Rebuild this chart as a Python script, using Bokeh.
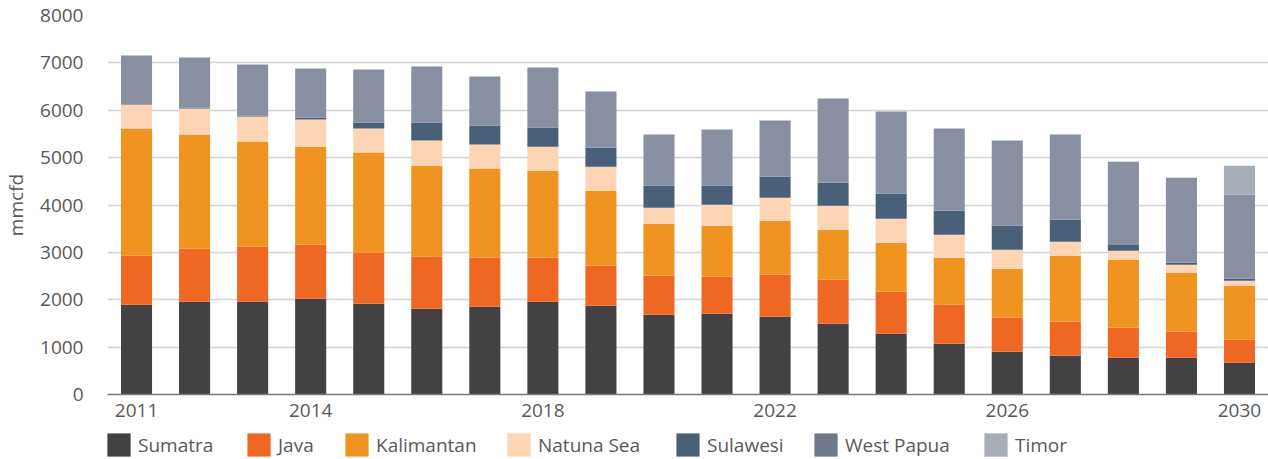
from bokeh.plotting import figure
from bokeh.layouts import column
from bokeh.models import ColumnDataSource, FixedTicker, Legend, LegendItem
from bokeh.embed import file_html
from bokeh.resources import INLINE

# Gas supply by region, mmcfd
years = list(range(2011, 2031))
sumatra = [1894, 1958, 1958, 2021, 1915, 1810, 1852, 1958, 1873, 1683,
           1704, 1641, 1493, 1282, 1070, 901, 817, 775, 775, 669]
java = [1036, 1119, 1162, 1141, 1078, 1098, 1035, 929, 845, 824,
        782, 887, 930, 887, 824, 719, 718, 633, 549, 486]
kalimantan = [2683, 2409, 2218, 2070, 2113, 1923, 1881, 1838, 1585, 1099,
              1077, 1141, 1056, 1035, 993, 1035, 1395, 1437, 1246, 1141]
natuna_sea = [507, 549, 528, 571, 507, 528, 507, 507, 507, 338,
              444, 486, 507, 507, 486, 401, 295, 190, 169, 105]
sulawesi = [14, 21, 21, 42, 126, 380, 401, 402, 401, 464,
            401, 444, 486, 528, 507, 507, 465, 120, 43, 43]
west_papua = [1021, 1057, 1078, 1035, 1120, 1184, 1035, 1267, 1183, 1078,
              1184, 1183, 1774, 1733, 1733, 1796, 1796, 1760, 1795, 1774]
timor = [0] * 19 + [613]

regions = ["Sumatra", "Java", "Kalimantan", "Natuna Sea", "Sulawesi", "West Papua", "Timor"]
year_ticks = [2011, 2014, 2018, 2022, 2026, 2030]
y_ticks = [0, 1000, 2000, 3000, 4000, 5000, 6000, 7000, 8000]

bar_colors = ["#434144", "#EE6824", "#F09320", "#FDD5B5", "#4A6079", "#878FA0", "#A6ACB6"]
swatch_colors = ["#434144", "#EE6824", "#F09320", "#FDD5B5", "#4A6079", "#6D798C", "#A6ACB6"]

source = ColumnDataSource(dict(
    year=years,
    Sumatra=sumatra,
    Java=java,
    Kalimantan=kalimantan,
    **{"Natuna Sea": natuna_sea},
    Sulawesi=sulawesi,
    **{"West Papua": west_papua},
    Timor=timor,
))

FONT = "Open Sans"
TEXT = "#595959"
SIZE = "19px"
LEFT = 106

# ---- main chart ----
p = figure(width=1268, height=428, output_backend="svg", toolbar_location=None,
           x_range=(2010.5, 2030.5), y_range=(0, 8000),
           min_border_left=LEFT, min_border_right=0, min_border_top=15, min_border_bottom=34)

p.vbar_stack(regions, x="year", width=0.535, source=source,
             color=bar_colors, line_width=0)

p.outline_line_color = None
p.xgrid.grid_line_color = None
p.ygrid.grid_line_color = "#D4D4D4"
p.ygrid.grid_line_width = 1.3

p.xaxis.ticker = FixedTicker(ticks=year_ticks)
p.xaxis.major_tick_line_color = None
p.xaxis.minor_tick_line_color = None
p.xaxis.axis_line_color = "#7A7A7A"
p.xaxis.axis_line_width = 1.5
p.xaxis.major_label_standoff = 3
p.xaxis.major_label_text_font = FONT
p.xaxis.major_label_text_font_size = SIZE
p.xaxis.major_label_text_color = TEXT

p.yaxis.ticker = FixedTicker(ticks=y_ticks)
p.yaxis.axis_line_color = None
p.yaxis.major_tick_line_color = None
p.yaxis.minor_tick_line_color = None
p.yaxis.major_label_standoff = 18
p.yaxis.major_label_text_font = FONT
p.yaxis.major_label_text_font_size = SIZE
p.yaxis.major_label_text_color = TEXT
p.yaxis.axis_label = "mmcfd"
p.yaxis.axis_label_text_font = FONT
p.yaxis.axis_label_text_font_size = SIZE
p.yaxis.axis_label_text_font_style = "normal"
p.yaxis.axis_label_text_color = TEXT
p.yaxis.axis_label_standoff = 8

# ---- legend strip under the chart (its frame lines up with the chart frame) ----
lf = figure(width=1268, height=31, output_backend="svg", toolbar_location=None,
            x_range=(0, 1), y_range=(0, 1), x_axis_type=None, y_axis_type=None,
            min_border=0)
lf.outline_line_color = None
lf.xgrid.visible = False
lf.ygrid.visible = False

swatch_left = [106, 246, 344, 506, 675, 813, 983]
for name, col, sx in zip(regions, swatch_colors, swatch_left):
    # zero-height bar that only provides the swatch
    r = lf.vbar(x=[0.5], top=[0], bottom=[0], width=0.1, fill_color=col, line_color=None)
    leg = Legend(items=[LegendItem(label=name, renderers=[r])],
                 location=(sx - LEFT - 3, 0), orientation="horizontal",
                 glyph_width=29, glyph_height=29, label_standoff=5,
                 padding=0, margin=0, border_line_color=None,
                 background_fill_alpha=0,
                 label_text_font=FONT, label_text_font_size=SIZE,
                 label_text_color=TEXT, label_height=29)
    lf.add_layout(leg, "center")

layout = column(p, lf, spacing=0)
open("out.html", "w").write(file_html(layout, INLINE))
